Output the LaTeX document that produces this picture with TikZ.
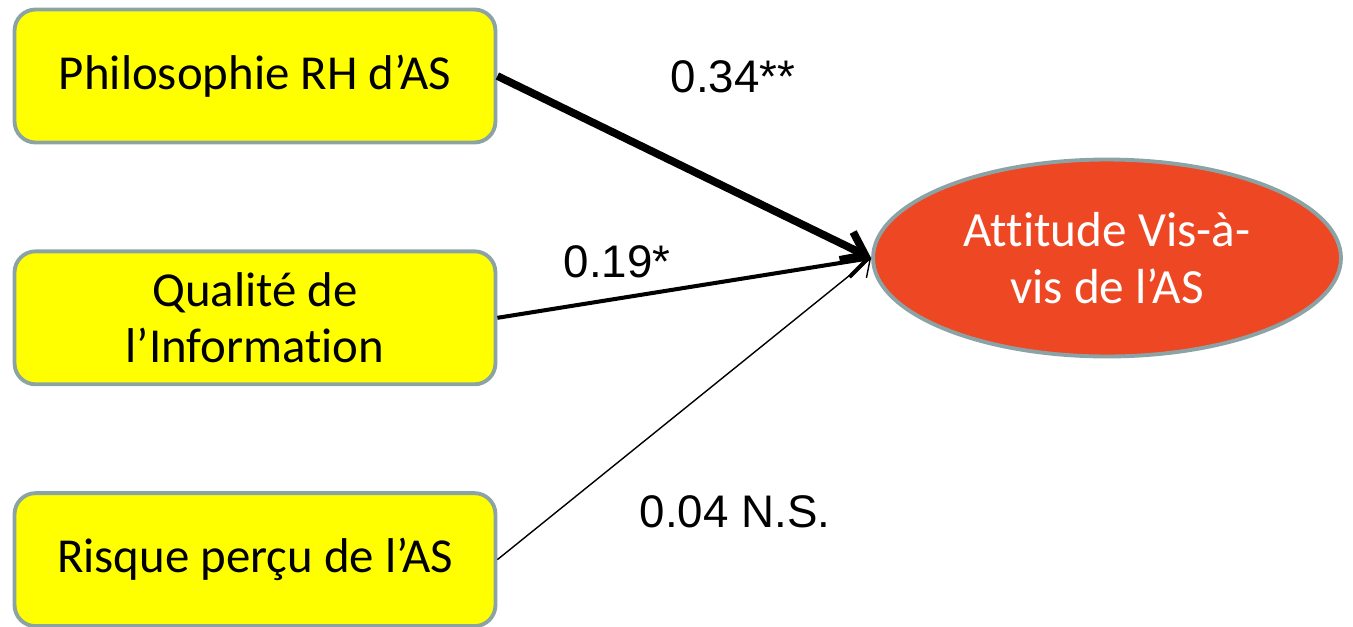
\documentclass[tikz,border=0pt]{standalone}
\usepackage{fontspec}
\setmainfont[Ligatures={NoCommon}]{Carlito}
\newfontfamily\labelfont{Liberation Sans}
\usepackage{xcolor}
\usetikzlibrary{positioning, arrows.meta, shapes.geometric}

\definecolor{boxborder}{RGB}{140,163,166}
\definecolor{boxyellow}{RGB}{255,255,0}
\definecolor{attred}{RGB}{238,71,36}

\begin{document}
\begin{tikzpicture}[
    x=0.02cm, y=-0.02cm,
    node distance=2.1cm,
    factor/.style={rectangle, draw=boxborder, fill=boxyellow, line width=2.2pt, rounded corners=0.42cm, minimum width=9.62cm, minimum height=2.66cm, align=center, font=\fontsize{27.8}{31.5}\selectfont},
    outcome/.style={ellipse, draw=boxborder, fill=attred, line width=2.2pt, minimum width=9.36cm, minimum height=3.94cm, inner sep=0pt, align=center, text=white, font=\fontsize{28}{32}\selectfont},
    coef/.style={font=\labelfont\fontsize{26}{30}\selectfont},
    path/.style={-{Straight Barb[length=0.42cm, width=0.62cm]}, black}
]
\useasboundingbox (0,0) rectangle (1353,626);
\clip (0,0) rectangle (1353,626);

\node[factor] (philo) at (255,76) {Philosophie RH d’AS};
\node[factor, below=of philo] (quali) {Qualité de\\l’Information};
\node[factor, below=of quali] (risque) {Risque perçu de l’AS};
\node[outcome] (attitude) at (1107,258) {Attitude Vis-à-\\vis de l’AS};

\node[coef] (c1) at (733,77) {0.34**};
\node[coef] (c2) at (617,262) {0.19*};
\node[coef] (c3) at (735,512) {0.04 N.S.};

\draw[path, line width=4.4pt] (philo.east) -- (attitude.west);
\draw[path, line width=2.3pt] (quali.east) -- (attitude.west);
\draw[path, line width=0.8pt, -{Straight Barb[length=0.3cm, width=0.5cm]}] (risque.east) -- (attitude.west);
\end{tikzpicture}
\end{document}
